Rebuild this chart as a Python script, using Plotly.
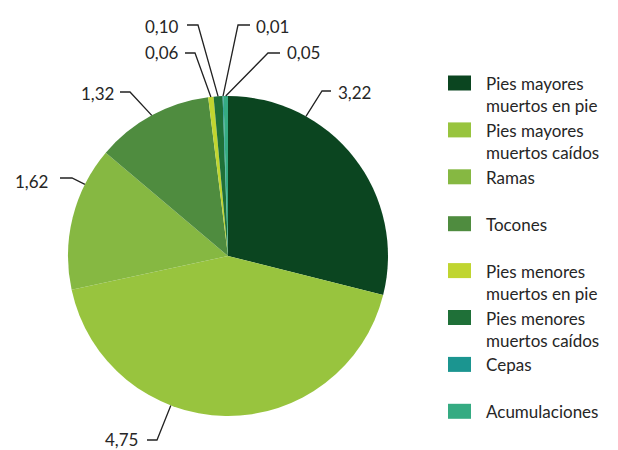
import math
import plotly.graph_objects as go

# ---- data ----
categories = [
    "Pies mayores muertos en pie",
    "Pies mayores muertos caídos",
    "Ramas",
    "Tocones",
    "Pies menores muertos en pie",
    "Pies menores muertos caídos",
    "Cepas",
    "Acumulaciones",
]
legend_labels = [
    "Pies mayores<br>muertos en pie",
    "Pies mayores<br>muertos caídos",
    "Ramas",
    "Tocones",
    "Pies menores<br>muertos en pie",
    "Pies menores<br>muertos caídos",
    "Cepas",
    "Acumulaciones",
]
values = [3.22, 4.75, 1.62, 1.32, 0.06, 0.10, 0.01, 0.05]
value_labels = ["3,22", "4,75", "1,62", "1,32", "0,06", "0,10", "0,01", "0,05"]

# ---- style ----
colors = ["#0b4520", "#98c43e", "#86b842", "#4f8c3f",
          "#c0d530", "#1f7038", "#1b9590", "#35ab82"]
W, H = 618, 450
FONT = "Lato"
FS = 17
TXT = "#262626"
# pie geometry (pixels)
CX, CY, R = 228, 256, 160
# where on each slice the leader line touches (fraction of slice)
anchor_frac = [0.28, 0.63, 0.74, 0.5, 0.5, 0.5, 0.5, 0.5]
# leader elbow (x, y), horizontal end x, text x, text anchor side
elbows = [(322, 91), (157, 440), (72, 178), (130, 92),
          (195, 53), (198, 25), (238, 25), (268, 53)]
h_end = [331, 147, 60, 120, 185, 187, 250, 280]
text_x = [336, 140, 50, 116, 181, 181, 254, 285]
text_side = ["left", "right", "right", "right", "right", "right", "left", "left"]
text_y = [92, 439, 181, 93, 53, 26, 26, 53]


def px(x):
    return x / W


def py(y):
    return 1 - y / H


fig = go.Figure(go.Pie(
    labels=categories,
    values=values,
    sort=False,
    direction="clockwise",
    rotation=0,
    textinfo="none",
    hoverinfo="label+value",
    marker=dict(colors=colors, line=dict(width=0)),
    domain=dict(x=[px(CX - R), px(CX + R)], y=[py(CY + R), py(CY - R)]),
    showlegend=False,
))

shapes = []
annotations = []
total = sum(values)
start = 0.0
for i, v in enumerate(values):
    span = 360.0 * v / total
    ang = math.radians(start + anchor_frac[i] * span)
    start += span
    ax_ = CX + R * math.sin(ang)
    ay_ = CY - R * math.cos(ang)
    ex, ey = elbows[i]
    path = f"M {px(ax_)},{py(ay_)} L {px(ex)},{py(ey)} L {px(h_end[i])},{py(ey)}"
    shapes.append(dict(type="path", xref="paper", yref="paper", path=path,
                       line=dict(color="#222222", width=1.3)))
    annotations.append(dict(
        x=px(text_x[i]), y=py(text_y[i]), xref="paper", yref="paper",
        text=value_labels[i], showarrow=False,
        xanchor=text_side[i], yanchor="middle",
        font=dict(family=FONT, size=FS, color=TXT)))

# legend
LEG_X0, LEG_X1 = 448, 471
LEG_Y0, LEG_STEP = 83, 46.9
for i, lab in enumerate(legend_labels):
    yc = LEG_Y0 + i * LEG_STEP
    shapes.append(dict(type="rect", xref="paper", yref="paper",
                       x0=px(LEG_X0), x1=px(LEG_X1),
                       y0=py(yc + 7.5), y1=py(yc - 7.5),
                       fillcolor=colors[i], line=dict(width=0)))
    annotations.append(dict(
        x=px(484), y=py(yc - 12), xref="paper", yref="paper",
        text=lab, showarrow=False, xanchor="left", yanchor="top",
        align="left",
        font=dict(family=FONT, size=FS, color=TXT)))

fig.update_layout(
    width=W, height=H,
    margin=dict(l=0, r=0, t=0, b=0),
    paper_bgcolor="white",
    plot_bgcolor="white",
    shapes=shapes,
    annotations=annotations,
)

fig.write_html("out.html",
               config={"displayModeBar": False},
               post_script="document.body.style.margin='0';"
                           "document.body.style.overflow='hidden';")
